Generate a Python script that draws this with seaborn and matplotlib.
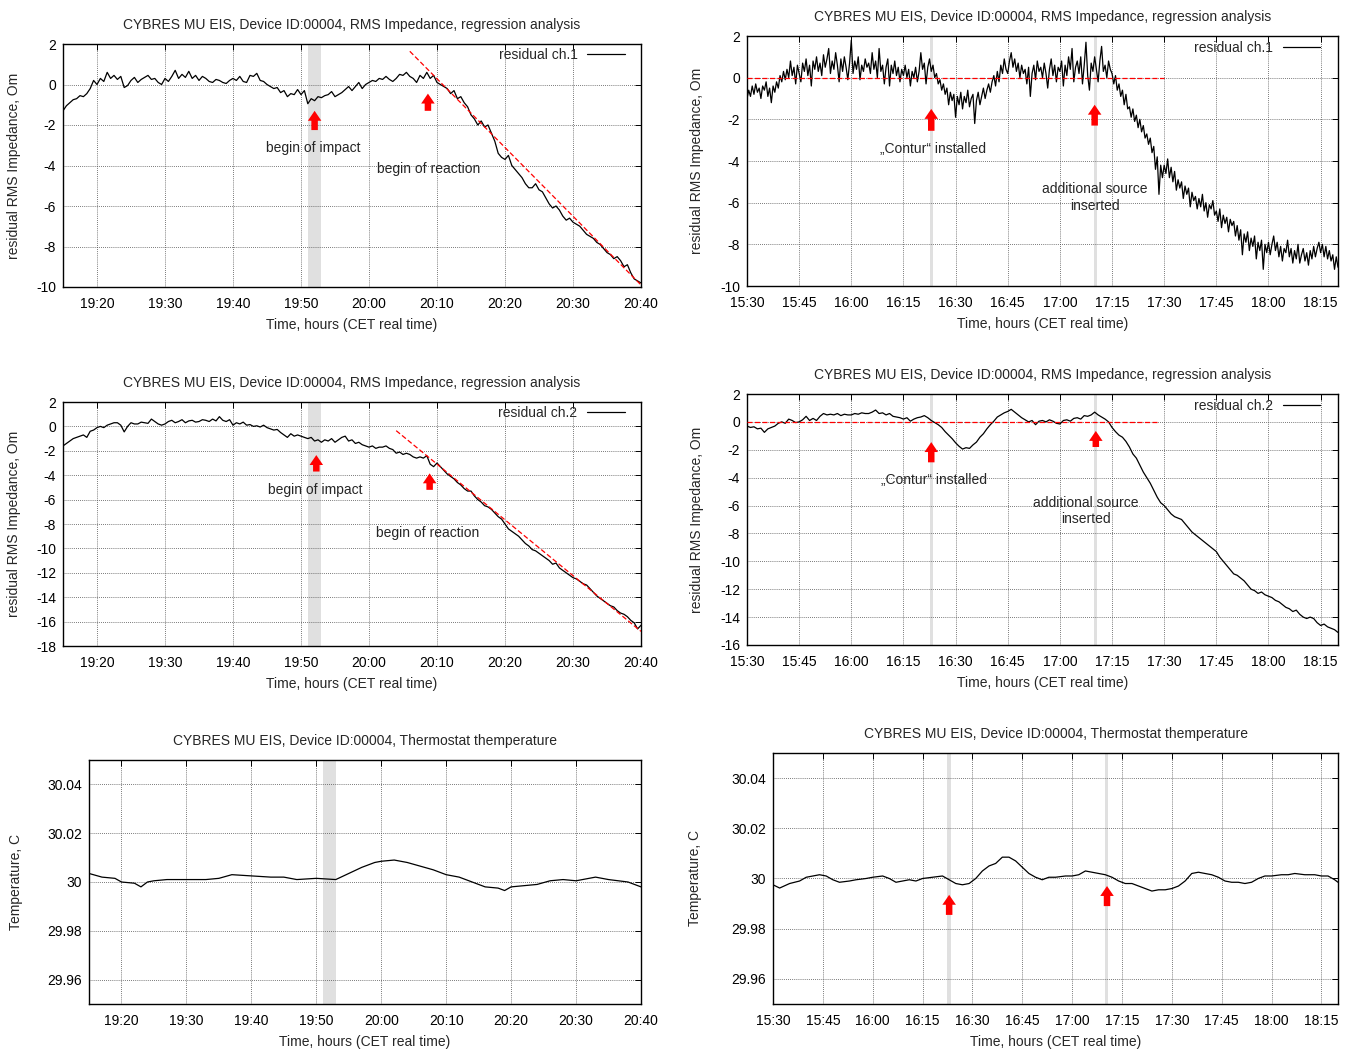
import numpy as np
import pandas as pd
import seaborn as sns
import matplotlib.pyplot as plt
import matplotlib.dates as mdates
from matplotlib.ticker import FuncFormatter

sns.set_theme(style='white')
plt.rcParams['font.family'] = ['Liberation Sans', 'DejaVu Sans']
plt.rcParams['font.size'] = 10
plt.rcParams['axes.unicode_minus'] = False

DAY = '2016-01-01 '

# ---------------- data ----------------
# left column: 19:15 .. 20:40, one value every 30 s
left_start = '19:15'
ch1_left = [
    -1.3, -1.05, -0.9, -0.75, -0.7, -0.55, -0.6, -0.45, -0.2, 0.2,
    0.0, 0.3, 0.15, 0.6, 0.3, 0.45, 0.25, 0.4, -0.15, -0.05,
    0.2, 0.35, 0.1, 0.25, 0.35, 0.45, 0.25, 0.3, 0.1, 0.0,
    0.3, 0.15, 0.4, 0.7, 0.3, 0.5, 0.35, 0.65, 0.3, 0.45,
    0.2, 0.4, 0.3, 0.15, 0.1, 0.25, 0.2, 0.1, 0.05, 0.2,
    0.3, 0.2, 0.4, 0.15, 0.1, 0.45, 0.4, 0.55, 0.2, 0.15,
    0.0, -0.1, -0.2, -0.15, -0.4, -0.3, -0.6, -0.45, -0.5, -0.25,
    -0.5, -0.3, -0.95, -0.7, -0.8, -0.6, -0.65, -0.55, -0.5, -0.35,
    -0.6, -0.5, -0.4, -0.25, -0.1, -0.3, -0.1, 0.1, -0.2, 0.0,
    0.1, 0.2, 0.15, 0.3, 0.25, 0.4, 0.25, 0.15, 0.3, 0.5,
    0.45, 0.6, 0.4, 0.3, 0.1, 0.45, 0.3, 0.6, 0.3, 0.45,
    0.1, 0.0, -0.1, -0.2, -0.45, -0.3, -0.7, -0.6, -0.9, -1.1,
    -1.5, -1.7, -2.0, -1.8, -2.1, -2.0, -2.4, -2.8, -3.4, -3.6,
    -3.7, -3.5, -4.0, -4.2, -4.4, -4.6, -4.9, -5.1, -5.1, -4.9,
    -5.2, -5.3, -5.6, -5.9, -6.1, -6.0, -6.2, -6.5, -6.7, -6.6,
    -6.8, -6.9, -7.0, -7.2, -7.4, -7.5, -7.6, -7.8, -7.9, -8.1,
    -8.3, -8.4, -8.6, -8.5, -8.7, -9.0, -8.9, -9.3, -9.6, -9.7,
    -9.8,
]
ch2_left = [
    -1.6, -1.4, -1.2, -1.0, -0.9, -0.8, -0.7, -0.9, -0.4, -0.3,
    -0.1, 0.0, -0.1, 0.1, 0.2, 0.3, 0.3, 0.1, -0.45, 0.0,
    0.3, 0.2, 0.2, 0.35, 0.3, 0.25, 0.6, 0.4, 0.2, 0.1,
    0.2, 0.4, 0.5, 0.3, 0.4, 0.55, 0.3, 0.45, 0.5, 0.35,
    0.4, 0.55, 0.5, 0.4, 0.6, 0.45, 0.8, 0.5, 0.4, 0.55,
    0.1, 0.3, 0.2, 0.35, 0.1, 0.15, 0.0, 0.05, -0.05, 0.1,
    -0.1, -0.2, -0.3, -0.25, -0.5, -0.7, -0.9, -0.6, -0.8, -0.7,
    -0.8, -0.9, -1.0, -0.9, -1.2, -1.1, -1.3, -1.1, -1.2, -1.0,
    -1.3, -1.1, -0.9, -0.8, -1.2, -1.1, -1.4, -1.3, -1.5, -1.6,
    -1.7, -1.6, -1.8, -1.7, -1.7, -1.6, -1.8, -1.9, -2.2, -2.1,
    -2.3, -2.2, -2.3, -2.5, -2.6, -2.5, -2.6, -2.4, -3.1, -3.3,
    -3.0, -3.3, -3.6, -3.9, -4.1, -4.3, -4.6, -4.8, -5.1, -5.3,
    -5.3, -5.7, -6.0, -6.2, -6.5, -6.6, -6.8, -7.1, -7.4, -7.6,
    -8.0, -8.4, -8.6, -8.8, -9.0, -9.3, -9.6, -9.8, -10.1, -10.2,
    -10.4, -10.6, -10.8, -11.0, -11.3, -11.2, -11.6, -11.8, -12.0, -12.2,
    -12.4, -12.5, -12.7, -12.9, -13.0, -13.3, -13.6, -13.9, -14.1, -14.3,
    -14.5, -14.7, -14.8, -15.1, -15.3, -15.4, -15.6, -15.9, -16.1, -16.6,
    -16.3,
]

# right column: 15:30 .. 18:20; ch.1 every 30 s, ch.2 every 60 s
right_start = '15:30'
ch1_right = [
    -1.0, -0.6, -0.9, -0.4, -0.8, -0.3, -0.7, -0.5, -1.0, -0.4,
    -0.6, -0.2, -0.9, -0.5, -1.2, -0.4, -0.7, -0.2, -0.5, 0.1,
    -0.2, 0.3, -0.1, 0.4, 0.0, 0.8, 0.1, 0.5, -0.3, 0.6,
    0.2, -0.2, 0.7, 0.3, 0.9, 0.1, 0.6, -0.4, 0.8, 0.4,
    1.0, 0.3, 0.7, 0.1, 1.1, 0.5, 0.9, 1.4, 0.2, 0.8,
    0.4, 1.2, 0.6, -0.2, 0.9, 0.3, 1.0, 0.5, -0.1, 0.7,
    1.8, 0.2, 0.8, 0.4, 1.0, -0.1, 0.6, 0.3, 0.9, 0.5,
    0.7, 0.2, 1.2, 0.4, 0.8, 0.0, 1.4, 0.3, 0.6, -0.3,
    0.5, 0.9, -0.4, 0.6, 0.2, 0.8, 0.1, 0.5, -0.2, 0.4,
    0.1, 0.6, 0.0, 0.4, -0.4, 0.3, 0.0, 0.5, -0.2, 0.3,
    1.2, 0.4, 0.7, -0.3, 0.5, 0.9, 0.3, 0.6, 0.0, 0.2,
    -0.3, -0.1, -0.6, -0.3, -0.8, -0.5, -1.3, -0.7, -1.1, -0.8,
    -1.9, -0.9, -1.3, -0.7, -1.5, -0.9, -1.2, -0.6, -1.4, -1.0,
    -0.8, -2.2, -1.1, -0.7, -1.3, -0.9, -0.5, -1.0, -0.6, -0.3,
    -0.7, -0.2, 0.1, -0.4, 0.3, -0.2, 0.6, 0.2, 0.9, 0.4,
    0.2, 0.8, 1.2, 0.5, 0.9, 0.3, 0.7, 0.0, 0.6, 0.2,
    0.4, -0.3, 0.5, -0.9, 0.2, 0.6, -0.1, 0.8, 0.3, 0.5,
    0.0, 0.7, 0.2, -0.5, 0.4, 0.9, 0.1, 0.6, -0.2, 0.5,
    0.3, 0.8, -0.4, 0.6, 0.1, 1.0, 0.4, 1.4, -0.2, 0.5,
    0.8, 0.2, 1.0, -0.3, 0.6, 1.7, 0.1, -0.6, 0.7, 0.3,
    1.0, 0.4, -0.2, 0.8, 1.5, 0.3, 0.6, 0.0, 0.8, 0.4,
    0.2, -0.3, 0.1, -0.6, -0.3, -0.9, -0.6, -1.3, -0.8, -1.5,
    -1.4, -1.9, -1.5, -2.1, -1.8, -2.4, -2.0, -2.6, -2.3, -2.9,
    -2.7, -3.2, -2.9, -3.6, -3.3, -4.4, -3.8, -5.6, -4.2, -4.8,
    -4.2, -4.6, -3.9, -4.8, -4.3, -5.0, -4.5, -5.4, -4.9, -5.3,
    -5.0, -5.8, -5.2, -5.6, -5.3, -6.2, -5.5, -5.9, -5.7, -6.3,
    -5.8, -6.2, -5.6, -6.4, -6.0, -6.7, -6.1, -6.3, -5.9, -6.6,
    -6.4, -6.9, -6.3, -7.2, -6.6, -7.0, -6.7, -7.4, -6.8, -7.1,
    -6.9, -7.6, -7.1, -7.8, -7.3, -8.5, -7.5, -7.9, -7.4, -8.3,
    -7.7, -8.1, -7.6, -8.7, -7.9, -8.3, -7.8, -9.2, -8.0, -8.4,
    -7.9, -8.5, -8.0, -7.6, -8.3, -7.9, -8.6, -8.1, -8.8, -8.2,
    -8.4, -7.8, -8.6, -8.2, -8.9, -8.3, -8.7, -8.0, -8.9, -8.5,
    -8.2, -8.8, -8.4, -9.0, -8.3, -8.7, -8.1, -8.6, -8.2, -7.9,
    -8.4, -8.0, -8.6, -8.1, -8.7, -8.3, -8.8, -8.5, -9.2, -8.6,
    -9.1,
]
ch2_right = [
    -0.3, -0.4, -0.35, -0.5, -0.45, -0.75, -0.5, -0.4, -0.3, -0.1,
    0.0, -0.1, 0.2, 0.1, -0.05, 0.0, 0.15, 0.4, 0.1, 0.25,
    0.1, 0.4, 0.6, 0.5, 0.55, 0.5, 0.6, 0.45, 0.55, 0.5,
    0.5, 0.6, 0.55, 0.65, 0.6, 0.6, 0.7, 0.85, 0.6, 0.65,
    0.5, 0.6, 0.4, 0.35, 0.3, 0.2, 0.3, 0.05, 0.2, 0.3,
    0.35, 0.45, 0.3, 0.1, -0.05, -0.2, -0.4, -0.7, -0.95, -1.2,
    -1.5, -1.75, -1.95, -1.85, -1.9, -1.65, -1.45, -1.1, -0.85, -0.5,
    -0.2, 0.05, 0.35, 0.5, 0.65, 0.75, 0.9, 0.7, 0.5, 0.3,
    0.15, 0.0, 0.1, -0.2, 0.05, 0.1, 0.0, 0.15, 0.05, -0.1,
    -0.15, 0.1, 0.15, 0.05, 0.25, 0.3, 0.2, 0.45, 0.4, 0.5,
    0.7, 0.5, 0.35, 0.2, 0.0, -0.4, -0.7, -0.95, -1.1, -1.4,
    -1.8, -2.3, -2.6, -3.1, -3.6, -4.0, -4.4, -4.9, -5.4, -5.8,
    -6.0, -6.3, -6.6, -6.8, -6.9, -7.0, -7.3, -7.6, -7.9, -8.1,
    -8.3, -8.5, -8.7, -8.9, -9.1, -9.3, -9.7, -10.0, -10.3, -10.6,
    -10.9, -11.0, -11.2, -11.4, -11.7, -12.0, -12.1, -12.3, -12.2, -12.4,
    -12.5, -12.6, -12.8, -12.9, -13.1, -13.3, -13.4, -13.6, -13.5, -13.8,
    -14.0, -14.1, -14.0, -14.1, -14.4, -14.6, -14.5, -14.7, -14.8, -14.9,
    -15.1,
]

# thermostat temperature, read at irregular times
temp_left_t = ['19:15', '19:17', '19:19', '19:20', '19:22', '19:23', '19:24', '19:25',
               '19:27', '19:30', '19:33', '19:35', '19:37', '19:40', '19:43', '19:45',
               '19:47', '19:50', '19:53', '19:55', '19:57', '19:59', '20:00', '20:02',
               '20:04', '20:06', '20:08', '20:10', '20:12', '20:14', '20:16', '20:18',
               '20:19', '20:20', '20:22', '20:24', '20:26', '20:28', '20:30', '20:33',
               '20:35', '20:38', '20:40']
temp_left_v = [30.0035, 30.002, 30.0015, 30.0, 29.9995, 29.998, 30.0, 30.0005,
               30.001, 30.001, 30.001, 30.0015, 30.003, 30.0025, 30.002, 30.002,
               30.001, 30.0015, 30.001, 30.0035, 30.006, 30.008, 30.0085, 30.009,
               30.008, 30.0065, 30.005, 30.003, 30.002, 30.0, 29.998, 29.9975,
               29.9965, 29.998, 29.9985, 29.999, 30.0005, 30.001, 30.0005, 30.002,
               30.001, 30.0, 29.998]
temp_right_t = ['15:30', '15:32', '15:35', '15:38', '15:40', '15:42', '15:44', '15:46',
                '15:48', '15:50', '15:53', '15:55', '15:58', '16:00', '16:03', '16:05',
                '16:07', '16:09', '16:11', '16:13', '16:15', '16:18', '16:21', '16:23',
                '16:25', '16:27', '16:29', '16:31', '16:33', '16:35', '16:37', '16:39',
                '16:41', '16:43', '16:45', '16:47', '16:49', '16:51', '16:53', '16:55',
                '16:58', '17:00', '17:02', '17:04', '17:06', '17:08', '17:10', '17:12',
                '17:14', '17:16', '17:18', '17:20', '17:22', '17:24', '17:26', '17:28',
                '17:30', '17:32', '17:34', '17:36', '17:38', '17:40', '17:42', '17:44',
                '17:46', '17:48', '17:50', '17:52', '17:54', '17:56', '17:58', '18:00',
                '18:03', '18:05', '18:07', '18:10', '18:13', '18:15', '18:17', '18:19',
                '18:20']
temp_right_v = [29.9975, 29.9962, 29.998, 29.999, 30.0005, 30.001, 30.0015, 30.001,
                29.9995, 29.9985, 29.999, 29.9995, 30.0, 30.0005, 30.001, 30.0,
                29.9985, 29.999, 29.9995, 29.999, 30.0, 30.0005, 30.001, 29.9995,
                29.998, 29.9975, 29.998, 30.0, 30.003, 30.005, 30.006, 30.0085,
                30.0085, 30.007, 30.0045, 30.002, 30.0005, 29.9995, 30.0005, 30.0005,
                30.001, 30.001, 30.0015, 30.003, 30.0025, 30.002, 30.0015, 30.0005,
                29.999, 29.998, 29.998, 29.997, 29.996, 29.995, 29.9955, 29.9955,
                29.996, 29.997, 29.999, 30.002, 30.0025, 30.002, 30.0015, 30.0005,
                29.999, 29.9985, 29.9985, 29.998, 29.9985, 30.0, 30.001, 30.001,
                30.0015, 30.0015, 30.002, 30.0015, 30.0015, 30.001, 30.001, 29.9995,
                29.9985]

# regression lines (red dashed)
fit1_t, fit1_v = ['20:06', '20:40'], [1.64, -9.9]
fit2_t, fit2_v = ['20:04', '20:40'], [-0.35, -16.8]
zero1_t, zero2_t, zero_v = ['15:30', '17:30'], ['15:30', '17:28'], [0, 0]

bands_left = [('19:51', '19:53')]
bands_right = [('16:22:30', '16:23:30'), ('17:09:45', '17:10:45')]

contur = '\u201eContur\u201c installed'
source = 'additional source\ninserted'
title_imp = 'CYBRES MU EIS, Device ID:00004, RMS Impedance, regression analysis'
title_temp = 'CYBRES MU EIS, Device ID:00004, Thermostat themperature'


def hm(s):
    return pd.Timestamp(DAY + s)


def times(start, step_s, n):
    return pd.date_range(hm(start), periods=n, freq=f'{step_s}s')


def setup(ax, xlim, tick_min, ylim, yticks, ylabel, title, ylab_x):
    ax.set_xlim(hm(xlim[0]), hm(xlim[1]))
    ax.set_ylim(*ylim)
    ax.set_yticks(yticks)
    ax.xaxis.set_major_locator(mdates.MinuteLocator(byminute=tick_min))
    ax.xaxis.set_major_formatter(mdates.DateFormatter('%H:%M'))
    ax.yaxis.set_major_formatter(FuncFormatter(lambda v, p: f'{v:g}'))
    ax.grid(True, color='0.3', linestyle=(0, (1, 1.5)), linewidth=0.6)
    ax.tick_params(direction='in', length=4, width=0.7, top=True, right=True,
                   labelsize=10, colors='black')
    ax.tick_params(axis='x', pad=7)
    ax.tick_params(axis='y', pad=5)
    for sp in ax.spines.values():
        sp.set_color('black')
        sp.set_linewidth(1.0)
    ax.set_title(title, fontsize=10, pad=11)
    ax.set_xlabel('Time, hours (CET real time)', fontsize=10, labelpad=5)
    ax.set_ylabel(ylabel, fontsize=10)
    ax.yaxis.set_label_coords(ylab_x, 0.5)


def bands(ax, spans):
    for a, b in spans:
        ax.axvspan(hm(a), hm(b), color='#e0e0e0', lw=0, zorder=0.5)


def arrows(ax, items):
    for t, y0, y1 in items:
        ax.annotate('', xy=(hm(t), y1), xytext=(hm(t), y0),
                    arrowprops=dict(arrowstyle='simple,head_length=0.55,head_width=0.75,tail_width=0.36',
                                    color='red', lw=0, shrinkA=0, shrinkB=0, mutation_scale=13),
                    zorder=5)


def notes(ax, items):
    for t, y, s in items:
        ax.text(hm(t), y, s, ha='center', va='center', fontsize=10, zorder=6)


def trace(ax, x, y, label=None, anchor=None):
    sns.lineplot(x=x, y=y, ax=ax, color='black', linewidth=0.9, errorbar=None,
                 label=label, legend=False, zorder=3)
    if label:
        ax.legend(loc='upper right', bbox_to_anchor=anchor, frameon=False, markerfirst=False,
                  fontsize=10, handlelength=2.7, handletextpad=0.7, borderaxespad=0,
                  borderpad=0)


def dashed(ax, t, v):
    sns.lineplot(x=[hm(s) for s in t], y=v, ax=ax, color='red', linewidth=0.9,
                 linestyle=(0, (4, 2)), errorbar=None, legend=False, zorder=4)


W, H = 1350, 1050
fig = plt.figure(figsize=(W / 100, H / 100), dpi=100)


def box(l, t, r, b):
    return fig.add_axes([l / W, 1 - b / H, (r - l) / W, (b - t) / H])


ax1 = box(63, 44, 641, 287)
ax2 = box(747, 36, 1338, 286)
ax3 = box(63, 402, 641, 646)
ax4 = box(747, 394, 1338, 645)
ax5 = box(89, 760, 641, 1004)
ax6 = box(773, 753, 1338, 1004)

ylab_imp = 'residual RMS Impedance, Om'
ylab_temp = 'Temperature, C'
left_ticks = [0, 10, 20, 30, 40, 50]
right_ticks = [0, 15, 30, 45]

# panel 1
bands(ax1, bands_left)
trace(ax1, times(left_start, 30, len(ch1_left)), ch1_left, 'residual ch.1', (0.972, 0.985))
dashed(ax1, fit1_t, fit1_v)
setup(ax1, ('19:15', '20:40'), left_ticks, (-10, 2), range(-10, 3, 2), ylab_imp, title_imp, -0.072)
arrows(ax1, [('19:52', -2.25, -1.3), ('20:08:40', -1.3, -0.45)])
notes(ax1, [('19:51:45', -3.15, 'begin of impact'), ('20:08:50', -4.15, 'begin of reaction')])

# panel 2
bands(ax2, bands_right)
trace(ax2, times(right_start, 30, len(ch1_right)), ch1_right, 'residual ch.1', (0.970, 0.982))
dashed(ax2, zero1_t, zero_v)
setup(ax2, ('15:30', '18:20'), right_ticks, (-10, 2), range(-10, 3, 2), ylab_imp, title_imp, -0.073)
arrows(ax2, [('16:23', -2.55, -1.5), ('17:10', -2.3, -1.3)])
notes(ax2, [('16:23:30', -3.4, contur), ('17:10', -5.75, source)])

# panel 3
bands(ax3, bands_left)
trace(ax3, times(left_start, 30, len(ch2_left)), ch2_left, 'residual ch.2', (0.972, 0.985))
dashed(ax3, fit2_t, fit2_v)
setup(ax3, ('19:15', '20:40'), left_ticks, (-18, 2), range(-18, 3, 2), ylab_imp, title_imp, -0.072)
arrows(ax3, [('19:52:15', -3.7, -2.35), ('20:08:55', -5.2, -3.85)])
notes(ax3, [('19:52:10', -5.2, 'begin of impact'), ('20:08:40', -8.75, 'begin of reaction')])

# panel 4
bands(ax4, bands_right)
trace(ax4, times(right_start, 60, len(ch2_right)), ch2_right, 'residual ch.2', (0.970, 0.980))
dashed(ax4, zero2_t, zero_v)
setup(ax4, ('15:30', '18:20'), right_ticks, (-16, 2), range(-16, 3, 2), ylab_imp, title_imp, -0.073)
arrows(ax4, [('16:23', -2.9, -1.45), ('17:10:20', -1.8, -0.65)])
notes(ax4, [('16:23:40', -4.15, contur), ('17:07:30', -6.4, source)])

# panel 5
bands(ax5, bands_left)
trace(ax5, [hm(s) for s in temp_left_t], temp_left_v)
setup(ax5, ('19:15', '20:40'), left_ticks, (29.95, 30.05), [29.96, 29.98, 30.0, 30.02, 30.04],
      ylab_temp, title_temp, -0.12)

# panel 6
bands(ax6, bands_right)
trace(ax6, [hm(s) for s in temp_right_t], temp_right_v)
setup(ax6, ('15:30', '18:20'), right_ticks, (29.95, 30.05), [29.96, 29.98, 30.0, 30.02, 30.04],
      ylab_temp, title_temp, -0.125)
arrows(ax6, [('16:23', 29.9855, 29.9935), ('17:10:30', 29.989, 29.997)])

fig.savefig('out.png', dpi=100)
